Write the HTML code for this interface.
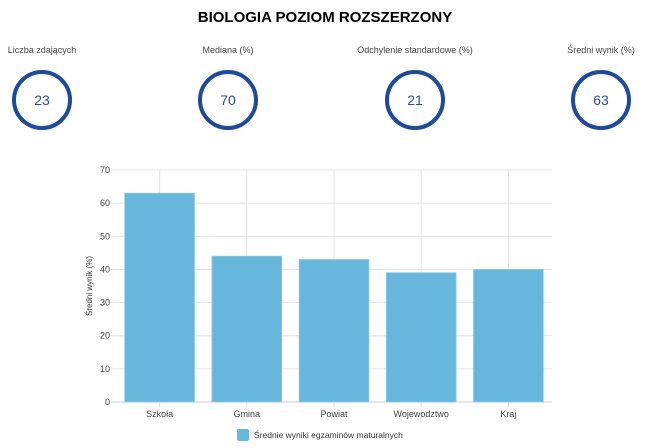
<!DOCTYPE html>
<html><head><meta charset="utf-8"><style>
body{margin:0;width:650px;height:448px;background:#fff;font-family:"Liberation Sans",sans-serif;overflow:hidden;position:relative}
.t{position:absolute;top:9px;left:0;width:650px;text-align:center;font-weight:bold;font-size:15px;color:#000}
.k{position:absolute;text-align:center;width:160px;font-size:9px;color:#444}
.c{position:absolute;width:60px;height:60px;border:4px solid #1d4a99;border-radius:50%;box-sizing:border-box;text-align:center;line-height:52px;font-size:14px;color:#2b4f8f}
</style></head><body>
<div class="t">BIOLOGIA POZIOM ROZSZERZONY</div>
<div class="k" style="left:-38px;top:45px">Liczba zdających</div>
<div class="c" style="left:12px;top:70px">23</div>
<div class="k" style="left:148px;top:45px">Mediana (%)</div>
<div class="c" style="left:198px;top:70px">70</div>
<div class="k" style="left:335px;top:45px">Odchylenie standardowe (%)</div>
<div class="c" style="left:385px;top:70px">21</div>
<div class="k" style="left:521px;top:45px">Średni wynik (%)</div>
<div class="c" style="left:571px;top:70px">63</div>
<svg id="ch" width="650" height="448" style="position:absolute;left:0;top:0"></svg>
<script>
const categories=["Szkoła","Gmina","Powiat","Wojewodztwo","Kraj"];
const values=[63,44,43,39,40];
const yTicks=[0,10,20,30,40,50,60,70];
const svg=document.getElementById('ch');const NS="http://www.w3.org/2000/svg";
const L=116,R=552,T=170,B=402,ymax=70;
const band=(R-L)/categories.length;
const x=i=>L+band*(i+0.5);const y=v=>B-(v/ymax)*(B-T);
function mk(t,a,txt){const e=document.createElementNS(NS,t);for(const k in a)e.setAttribute(k,a[k]);if(txt!==undefined)e.textContent=txt;svg.appendChild(e);return e;}
yTicks.forEach(v=>{const g=mk('line',{x1:L-6,x2:R,y1:y(v),y2:y(v),stroke:v===0?'#ccc':'#e4e4e4','stroke-width':1});

const t=mk('text',{x:L-6,y:y(v)+3,'text-anchor':'end','font-size':9,fill:'#444'},v);
});
categories.forEach((c,i)=>{const g=mk('line',{x1:x(i),x2:x(i),y1:T,y2:B+5,stroke:'#e4e4e4','stroke-width':1});
});
categories.forEach((c,i)=>{const w=band*0.8;
const b=mk('rect',{x:x(i)-w/2,y:y(values[i]),width:w,height:B-y(values[i]),fill:'#67b6dc',stroke:'#8ccbe8','stroke-width':0.8});

const t=mk('text',{x:x(i),y:B+15,'text-anchor':'middle','font-size':9,fill:'#444'},c);
});
const yt=mk('text',{x:0,y:0,transform:`translate(92,${(T+B)/2}) rotate(-90)`,'text-anchor':'middle','font-size':8,fill:'#333'},'Średni wynik (%)');

const lr=mk('rect',{x:237,y:429,width:12,height:12,rx:2,fill:'#67b6dc'});

const lt=mk('text',{x:254,y:438,'font-size':8.5,fill:'#333'},'Średnie wyniki egzaminów maturalnych');

</script>
</body></html>
